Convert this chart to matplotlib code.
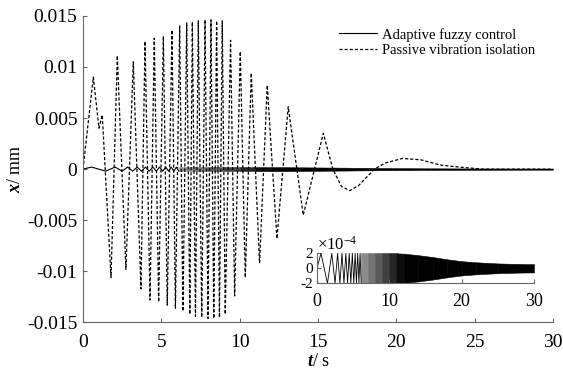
import matplotlib
matplotlib.use("Agg")
import matplotlib.pyplot as plt
import numpy as np

plt.rcParams['font.family'] = ['Liberation Serif', 'DejaVu Serif']
plt.rcParams['axes.unicode_minus'] = False
plt.rcParams['mathtext.fontset'] = 'custom'
plt.rcParams['mathtext.it'] = 'Liberation Serif:italic:bold'
plt.rcParams['mathtext.rm'] = 'Liberation Serif'

# ---- Passive vibration isolation: extrema / shape points (t in s, x in mm)
passive_t = [0.0, 0.66, 1.02, 1.23, 1.79, 2.19, 2.74, 3.21, 3.70, 3.96, 4.28, 4.55, 4.83,
             5.13, 5.38, 5.68, 5.90, 6.17, 6.38, 6.62, 6.82, 6.98, 7.18, 7.36, 7.58,
             7.79, 7.98, 8.17, 8.35, 8.53, 8.71, 8.89, 9.08, 9.42, 9.68, 10.04, 10.36,
             10.74, 11.27, 11.76, 12.38, 13.10, 14.06, 15.34, 15.95, 16.5, 17.04, 17.6,
             18.6, 19.3, 20.4, 21.6, 22.8, 24.0, 25.5, 30.0]
passive_x = [0.0, 0.0090, 0.0040, 0.0053, -0.0106, 0.0111, -0.0098, 0.0105, -0.0117, 0.0125,
             -0.0128, 0.0128, -0.0130, 0.0130, -0.0133, 0.0136, -0.0136, 0.0140, -0.0139,
             0.0143, -0.0142, 0.0144, -0.0144, 0.0145, -0.0145, 0.0146, -0.0146, 0.0146,
             -0.0146, 0.0145, -0.0145, 0.0145, -0.0142, 0.0126, -0.0124, 0.0115, -0.0106,
             0.0094, -0.0092, 0.0082, -0.0068, 0.0061, -0.0045, 0.0035, 0.0, -0.0017,
             -0.0021, -0.0016, 0.0, 0.0006, 0.00105, 0.0009, 0.0004, 0.0002, 0.0, 0.0]

# ---- Adaptive fuzzy control: resolvable extrema (mm)
ctrl_t = [0.0, 0.55, 1.45, 2.05, 2.50, 2.85, 3.17, 3.46, 3.73, 3.99, 4.23, 4.46, 4.68,
          4.89, 5.09, 5.28, 5.46, 5.63, 5.80, 5.96, 6.11]
ctrl_x = [0.0, 2e-4, -2e-4, 2e-4, -2e-4, 2e-4, -2e-4, 2e-4, -2e-4, 2e-4, -2e-4, 2e-4,
          -2e-4, 2e-4, -2e-4, 2e-4, -2e-4, 2e-4, -2e-4, 2e-4, -2e-4]
# dense part: envelope of the oscillation band (mm)
env_t = [6.11, 7.0, 8.0, 9.0, 10.0, 11.0, 12.0, 14.0, 16.0, 18.0, 20.0, 22.0, 25.0, 28.0, 30.0]
env_x = [2.0e-4, 2.0e-4, 2.0e-4, 2.0e-4, 2.0e-4, 2.0e-4, 1.95e-4, 1.75e-4, 1.5e-4, 1.2e-4,
         0.95e-4, 0.8e-4, 0.65e-4, 0.57e-4, 0.55e-4]

yticks = [-0.015, -0.01, -0.005, 0, 0.005, 0.01, 0.015]
ytick_labels = ['-0.015', '-0.01', '-0.005', '0', '0.005', '0.01', '0.015']
xticks = [0, 5, 10, 15, 20, 25, 30]
inset_xticks = [0, 10, 20, 30]
inset_yticks = [-2, 0, 2]

fig = plt.figure(figsize=(5.63, 3.70), dpi=100)
ax = fig.add_axes([0.1474, 0.1284, 0.8348, 0.829])

spine_c = '0.4'
def style(a, fs):
    for s in ['top', 'right']:
        a.spines[s].set_visible(False)
    for s in ['left', 'bottom']:
        a.spines[s].set_color(spine_c)
        a.spines[s].set_linewidth(0.8)
    a.tick_params(direction='in', length=3, width=0.8, color=spine_c, labelsize=fs)

def band(a, scale):
    # dense oscillation drawn as a filled envelope band, darker where denser
    for i in range(len(env_t) - 1):
        t0, t1 = env_t[i], env_t[i + 1]
        mid = 0.5 * (t0 + t1)
        g = min(max((12.0 - mid) / 6.0 * 0.6, 0.0), 0.6)
        shade = str(round(g, 3))
        up = [env_x[i] * scale, env_x[i + 1] * scale]
        lo = [-v for v in up]
        a.fill_between([t0, t1], lo, up, facecolor=shade, edgecolor=shade, lw=0.4)

ax.plot(ctrl_t, ctrl_x, color='black', lw=0.8, label='Adaptive fuzzy control')
band(ax, 1.0)
ax.plot(passive_t, passive_x, color='black', lw=0.9, dashes=(2.5, 1.6),
        label='Passive vibration isolation')

ax.set_xlim(0, 30)
ax.set_ylim(-0.015, 0.015)
ax.set_xticks(xticks)
ax.set_yticks(yticks)
ax.set_yticklabels(ytick_labels)
style(ax, 14)
ax.tick_params(axis='x', pad=8)
ax.tick_params(axis='y', pad=4)
ax.set_xlabel(r'$t$/ s', fontsize=13, labelpad=1.5)
ax.set_ylabel(r'$x$/ mm', fontsize=13, labelpad=2)

leg = ax.legend(loc='upper left', bbox_to_anchor=(0.603, 0.925), bbox_transform=fig.transFigure,
                frameon=False, fontsize=10.5, handlelength=2.6, handletextpad=0.3,
                labelspacing=0.15, borderpad=0, borderaxespad=0)

# ---- inset
ins = fig.add_axes([0.563, 0.2343, 0.3854, 0.0811])
sc = 1e4
ins.plot(ctrl_t, [v * sc for v in ctrl_x], color='black', lw=0.6)
band(ins, sc)
ins.set_xlim(0, 30)
ins.set_ylim(-2, 2)
ins.set_xticks(inset_xticks)
ins.set_yticks(inset_yticks)
style(ins, 13)
ins.tick_params(axis='x', pad=7)
ins.tick_params(axis='y', pad=3, labelsize=11)
ins.text(0.0, 1.0, r'$\times10^{-4}$', transform=ins.transAxes, fontsize=12,
         ha='left', va='bottom', fontfamily='Liberation Serif')

fig.savefig('out.png', dpi=100)
